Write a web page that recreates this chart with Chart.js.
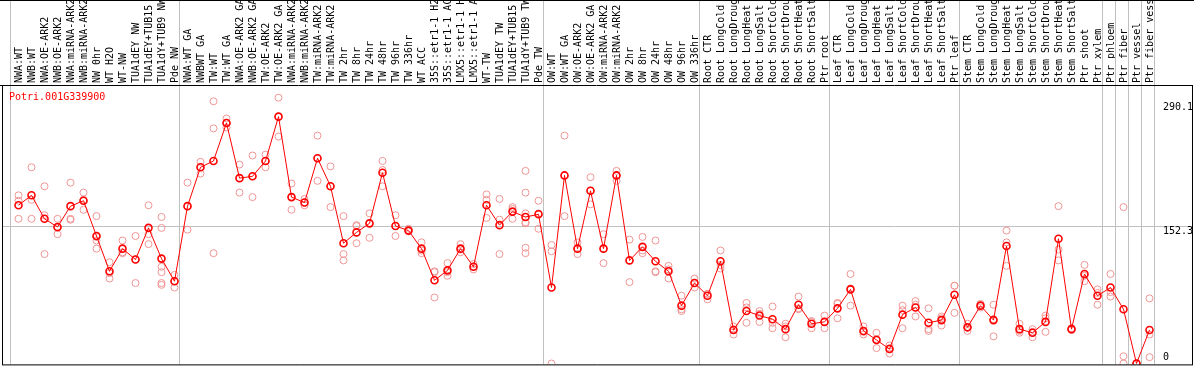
<!DOCTYPE html>
<html>
<head>
<meta charset="utf-8">
<script src="https://cdn.jsdelivr.net/npm/chart.js@4.4.0/dist/chart.umd.min.js"></script>
<style>
  html, body { margin: 0; padding: 0; background: #fff; }
  #wrap { width: 1194px; height: 370px; }
</style>
</head>
<body>
<div id="wrap"><canvas id="myChart" width="1194" height="370"></canvas></div>
<script>
const geneName = "Potri.001G339900";

const labels = [
  "NWA:WT", "NWB:WT", "NWA:OE-ARK2", "NWB:OE-ARK2", "NWA:miRNA-ARK2", "NWB:miRNA-ARK2",
  "NW 0hr", "WT H2O", "WT-NW", "TUA1dEY NW", "TUA1dEY+TUB15 NW", "TUA1dY+TUB9 NW", "Pde NW",
  "NWA:WT GA", "NWBWT GA", "TW:WT", "TW:WT GA", "NWA:OE-ARK2 GA", "NWB:OE-ARK2 GA",
  "TW:OE-ARK2", "TW:OE-ARK2 GA", "NWA:miRNA-ARK2 GA", "NWB:miRNA-ARK2 GA", "TW:miRNA-ARK2",
  "TW:miRNA-ARK2 GA", "TW 2hr", "TW 8hr", "TW 24hr", "TW 48hr", "TW 96hr", "TW 336hr",
  "WT ACC", "35S::etr1-1 H2O", "35S::etr1-1 ACC", "LMX5::etr1-1 H2O", "LMX5::etr1-1 ACC",
  "WT-TW", "TUA1dEY TW", "TUA1dEY+TUB15 TW", "TUA1dY+TUB9 TW", "Pde TW",
  "OW:WT", "OW:WT GA", "OW:OE-ARK2", "OW:OE-ARK2 GA", "OW:miRNA-ARK2", "OW:miRNA-ARK2 GA",
  "OW 2hr", "OW 8hr", "OW 24hr", "OW 48hr", "OW 96hr", "OW 336hr",
  "Root CTR", "Root LongCold", "Root LongDrought", "Root LongHeat", "Root LongSalt",
  "Root ShortCold", "Root ShortDrought", "Root ShortHeat", "Root ShortSalt", "Ptr root",
  "Leaf CTR", "Leaf LongCold", "Leaf LongDrought", "Leaf LongHeat", "Leaf LongSalt",
  "Leaf ShortCold", "Leaf ShortDrought", "Leaf ShortHeat", "Leaf ShortSalt", "Ptr leaf",
  "Stem CTR", "Stem LongCold", "Stem LongDrought", "Stem LongHeat", "Stem LongSalt",
  "Stem ShortCold", "Stem ShortDrought", "Stem ShortHeat", "Stem ShortSalt", "Ptr shoot",
  "Ptr xylem", "Ptr phloem", "Ptr fiber", "Ptr vessel", "Ptr fiber vessel"
];

const means = [
  175, 186, 160, 151, 174, 180, 141, 102, 127, 115, 150, 116, 91,
  174, 217, 224, 266, 205, 207, 224, 273, 184, 178, 227, 196, 133, 145, 155, 211, 152,
  147, 127, 92, 103, 127, 107, 175, 153, 168, 162, 165,
  84, 208, 127, 191, 127, 208, 114, 129, 113, 102, 64, 89,
  75, 113, 37, 58, 53, 49, 38, 65, 44, 46,
  61, 82, 36, 26, 16, 54, 62, 45, 48, 76,
  40, 64, 48, 130, 38, 34, 46, 138, 38, 99, 75,
  84, 60, 0, 37
];

const replicates = [
  [186, 180, 160], [217, 181, 160], [196, 164, 121], [160, 150, 143], [200, 160, 159],
  [189, 170, 181], [163, 140, 136, 127], [112, 94, 100], [136, 123, 122], [141, 89, 115],
  [175, 132, 143], [162, 150, 107, 101, 89, 87], [98, 84, 91],
  [200, 148, 174], [223, 210, 217], [290, 260, 122], [271, 261, 266], [220, 189, 205],
  [230, 184, 207], [231, 217, 224], [294, 251, 273], [199, 170, 184], [182, 175, 178],
  [252, 202, 227], [218, 173, 196], [163, 121, 114], [152, 153, 133], [166, 139, 155],
  [224, 214, 196], [164, 141, 152], [149, 146, 147], [134, 125, 122], [102, 73, 101],
  [111, 101, 97], [132, 126, 123], [110, 104, 107], [187, 181, 161], [182, 159, 121],
  [173, 160, 171], [213, 189, 166, 156, 155, 128, 122], [180, 149, 166],
  [131, 124, 0], [252, 163, 208], [134, 121, 127], [206, 176, 191], [143, 111, 127],
  [213, 202, 208], [137, 90, 114], [140, 125, 122], [136, 102, 101], [108, 94, 104],
  [75, 60, 58], [94, 89, 84],
  [71, 77, 77], [125, 109, 105], [41, 32, 38], [67, 45, 62], [58, 46, 55],
  [63, 39, 45], [44, 29, 41], [74, 60, 61], [39, 46, 47], [53, 39, 46],
  [67, 50, 66], [99, 64, 83], [41, 32, 35], [34, 17, 27], [20, 11, 17],
  [64, 39, 59], [69, 52, 65], [61, 36, 38], [52, 42, 50], [86, 56, 86],
  [36, 40, 44], [66, 62, 64], [65, 30, 49], [147, 134, 108], [44, 34, 36],
  [38, 29, 35], [53, 35, 50], [174, 126, 114], [39, 37, 38], [109, 91, 97], [82, 65, 78],
  [99, 74, 79], [173, 8, 0], [0, 0, 0], [72, 7, 32]
];

const yTickValues = [0, 152.3, 290.1];
// group separators: number of categories before each grey line
const groupEdges = [0, 13, 41, 53, 63, 73, 84, 85, 86, 87, 88];

const font = "DejaVu Sans Mono";

const repPoints = [];
replicates.forEach((vals, i) => vals.forEach(v => repPoints.push({ x: labels[i], y: v })));

const framePlugin = {
  id: 'frame',
  beforeDatasetsDraw(chart) {
    const ctx = chart.ctx;
    const x = chart.scales.x, y = chart.scales.y;
    const bottom = chart.chartArea.bottom;
    ctx.save();
    ctx.strokeStyle = '#c0c0c0';
    ctx.lineWidth = 1;
    groupEdges.forEach(k => {
      const px = Math.round(x.getPixelForValue(k - 0.5) - 2.5) + 0.5;
      ctx.beginPath();
      ctx.moveTo(px, 0);
      ctx.lineTo(px, bottom);
      ctx.stroke();
    });
    const gy = Math.round(y.getPixelForValue(152.3)) + 0.5;
    ctx.beginPath();
    ctx.moveTo(2, gy);
    ctx.lineTo(1192, gy);
    ctx.stroke();
    ctx.restore();
  },
  afterDraw(chart) {
    const ctx = chart.ctx;
    const y = chart.scales.y;
    const { top, bottom } = chart.chartArea;
    ctx.save();
    ctx.strokeStyle = '#000';
    ctx.lineWidth = 1;
    ctx.beginPath();
    ctx.moveTo(0, 0.5); ctx.lineTo(1194, 0.5);
    ctx.moveTo(0, top + 0.5); ctx.lineTo(1193, top + 0.5);
    ctx.moveTo(2.5, top); ctx.lineTo(2.5, bottom + 0.5);
    ctx.moveTo(1192.5, top); ctx.lineTo(1192.5, bottom + 0.5);
    ctx.moveTo(2, bottom + 0.5); ctx.lineTo(1193, bottom + 0.5);
    ctx.stroke();

    ctx.font = '10px "' + font + '"';
    ctx.textBaseline = 'top';
    ctx.textAlign = 'left';
    ctx.fillStyle = '#000';
    yTickValues.forEach(v => {
      const py = Math.min(y.getPixelForValue(v) + 1, bottom - 12);
      ctx.fillText(String(v), 1163, py);
    });

    ctx.fillStyle = '#ff0000';
    ctx.fillText(geneName, 9, top + 7);
    ctx.restore();
  }
};

new Chart(document.getElementById('myChart').getContext('2d'), {
  type: 'line',
  data: {
    labels: labels,
    datasets: [
      {
        label: 'mean',
        data: means,
        borderColor: '#ff0000',
        borderWidth: 1,
        pointRadius: 3.5,
        pointBorderWidth: 1.6,
        pointBorderColor: '#ff0000',
        pointBackgroundColor: 'rgba(0,0,0,0)',
        tension: 0,
        fill: false,
        order: 0
      },
      {
        label: 'replicates',
        data: repPoints,
        showLine: false,
        pointRadius: 3.5,
        pointBorderWidth: 1,
        pointBorderColor: '#ef9595',
        pointBackgroundColor: 'rgba(0,0,0,0)',
        order: 1
      }
    ]
  },
  plugins: [framePlugin],
  options: {
    responsive: false,
    animation: false,
    events: [],
    layout: { padding: { left: 12, right: 38, top: 0, bottom: 1 } },
    plugins: { legend: { display: false }, tooltip: { enabled: false } },
    scales: {
      x: {
        type: 'category',
        position: 'top',
        offset: true,
        grid: { display: false, drawTicks: false },
        border: { display: false },
        ticks: {
          autoSkip: false,
          minRotation: 90,
          maxRotation: 90,
          padding: 2,
          labelOffset: 13,
          color: '#000',
          font: { family: font, size: 10 }
        },
        afterFit(scale) { scale.height = 85; }
      },
      y: {
        type: 'linear',
        display: false,
        min: -1,
        max: 308
      }
    }
  }
});
</script>
</body>
</html>
